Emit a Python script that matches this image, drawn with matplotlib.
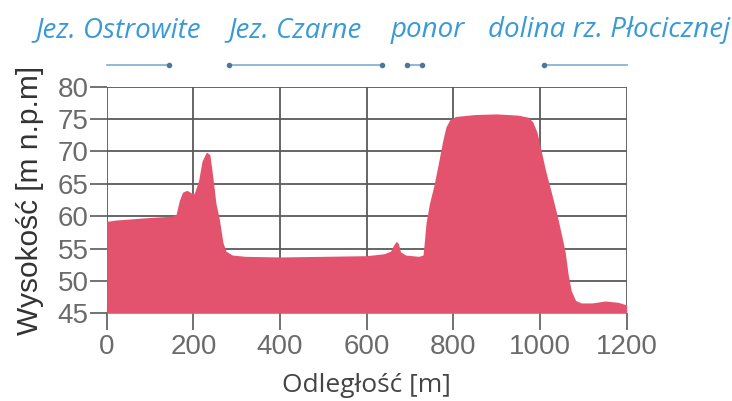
import numpy as np
import matplotlib.pyplot as plt

# Terrain profile (distance [m], elevation [m n.p.m.])
distance = [0, 20, 60, 100, 150, 160, 168, 175, 185, 195, 202, 212, 220, 230, 238,
            245, 252, 260, 268, 275, 290, 320, 400, 500, 600, 640, 655, 662, 668,
            673, 678, 690, 720, 730, 733, 737, 745, 755, 765, 775, 783, 792, 805,
            850, 900, 950, 972, 983, 993, 1003, 1013, 1025, 1040, 1050, 1058, 1065,
            1072, 1082, 1095, 1120, 1150, 1180, 1200]
elevation = [59.2, 59.4, 59.6, 59.8, 60.0, 60.3, 62.5, 63.7, 64.0, 63.6, 63.5, 65.5,
             68.5, 69.9, 69.5, 66.0, 62.0, 59.5, 56.0, 54.6, 54.0, 53.8, 53.7, 53.8,
             53.9, 54.2, 54.6, 55.5, 56.1, 55.8, 54.5, 54.0, 53.8, 54.0, 56.0, 59.0,
             62.0, 64.7, 68.0, 71.5, 73.8, 74.9, 75.4, 75.7, 75.8, 75.6, 75.3, 74.6,
             73.0, 70.0, 67.0, 64.0, 60.0, 57.0, 54.5, 51.0, 48.5, 47.0, 46.6, 46.6,
             46.9, 46.7, 46.3]

x_ticks = [0, 200, 400, 600, 800, 1000, 1200]
y_ticks = [45, 50, 55, 60, 65, 70, 75, 80]

# place names above the profile and their extents along the axis
places = ["Jez. Ostrowite", "Jez. Czarne", "ponor", "dolina rz. Płocicznej"]
place_left = [35, 228, 391, 488]   # px from the left edge of the figure
spans = [(0, 143), (283, 636), (692, 727), (1010, 1200)]

fill_color = "#e4536d"
blue = "#3a9ad6"

W, H = 732, 401
fig = plt.figure(figsize=(W / 100, H / 100), dpi=100)
ax = fig.add_axes([0.1458, 0.2187, 0.7103, 0.5651])

ax.fill_between(distance, elevation, 45, color=fill_color, lw=0, zorder=3)

ax.set_xlim(0, 1200)
ax.set_ylim(45, 80)
ax.set_xticks(x_ticks)
ax.set_yticks(y_ticks)
ax.grid(True, color="#5a5a5a", lw=1.3, zorder=1)
for s in ax.spines.values():
    s.set_visible(False)
ax.tick_params(length=12, width=1.2, color="#5a5a5a", pad=1, labelcolor="#6b6b6b",
               labelsize=20)
ax.tick_params(axis="x", pad=3)
for lbl in ax.get_xticklabels() + ax.get_yticklabels():
    lbl.set_family("Liberation Sans")

ax.set_ylabel("Wysokość [m n.p.m]", fontsize=21.5, color="#333333",
              family="Liberation Sans", labelpad=10)
ax.set_xlabel("Odległość [m]", fontsize=19, color="#444444", family="Open Sans",
              labelpad=9)

# labels and arrows above the chart
for name, left in zip(places, place_left):
    fig.text(left / W, 1 - 30 / H, name, ha="left", va="center", fontsize=20,
             style="italic", color=blue, family="Open Sans")

y_arrow = 83.3
for i, (a, b) in enumerate(spans):
    ax.plot([a, b], [y_arrow, y_arrow], color="#7aaed3", lw=1.2, clip_on=False)
    ends = {0: [b], 1: [a, b], 2: [a, b], 3: [a]}[i]
    ax.plot(ends, [y_arrow] * len(ends), "o", ms=3, color="#4f7898",
            clip_on=False)

fig.savefig("out.png", dpi=100)
